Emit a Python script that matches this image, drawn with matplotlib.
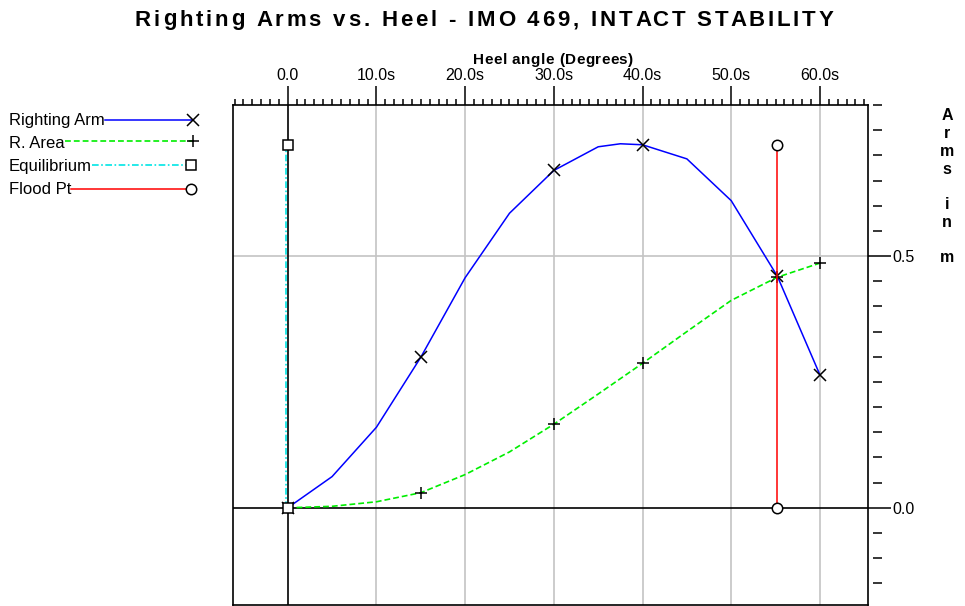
import matplotlib
matplotlib.use('Agg')
import matplotlib.pyplot as plt
import matplotlib.transforms as mtransforms
from matplotlib.lines import Line2D
from matplotlib.ticker import MultipleLocator

plt.rcParams['font.family'] = ['Liberation Sans', 'DejaVu Sans']

# ---------------- data ----------------
heel = [0, 5, 10, 15, 20, 25, 30, 35, 37.5, 40, 45, 50, 55.2, 60]
righting_arm = [0.0, 0.062, 0.160, 0.299, 0.457, 0.585, 0.670, 0.717, 0.723,
                0.721, 0.693, 0.610, 0.460, 0.264]
area_heel = [0, 5, 10, 15, 20, 25, 30, 35, 40, 45, 50, 55.2, 60]
r_area = [0.0, 0.003, 0.012, 0.030, 0.066, 0.111, 0.166, 0.226, 0.287,
          0.350, 0.412, 0.458, 0.486]
marked_heels = [0, 15, 30, 40, 55.2, 60]
equilibrium_heel = 0.0
flood_heel = 55.2
vline_range = [0.0, 0.721]

x_ticks = [0, 10, 20, 30, 40, 50, 60]
x_tick_labels = ['0.0', '10.0s', '20.0s', '30.0s', '40.0s', '50.0s', '60.0s']
y_ticks = [0.0, 0.5]
y_tick_labels = ['0.0', '0.5']
y_minor_ticks = [-0.15, -0.10, -0.05, 0.05, 0.10, 0.15, 0.20, 0.25, 0.30,
                 0.35, 0.40, 0.45, 0.55, 0.60, 0.65, 0.70, 0.75, 0.80]

title = 'Righting Arms vs. Heel - IMO 469, INTACT STABILITY'
x_label = 'Heel angle (Degrees)'
y_label_letters = ['A', 'r', 'm', 's', '', 'i', 'n', '', 'm']
legend_labels = ['Righting Arm', 'R. Area', 'Equilibrium', 'Flood Pt']

# ---------------- figure ----------------
W, H = 965, 606
fig = plt.figure(figsize=(W / 100, H / 100), dpi=100)
renderer = fig.canvas.get_renderer()

def fx(px):
    return px / W

def fy(py):
    return 1 - py / H

def tracked_text(cx, cy, s, target_w, **kw):
    """Draw text with extra letter spacing so it spans about target_w px."""
    def width(txt):
        t = fig.text(0, 0, txt, **kw)
        w = t.get_window_extent(renderer).width
        t.remove()
        return w
    wl = width('l')
    starts = [0.0] + [width(s[:i] + 'l') - wl for i in range(1, len(s))]
    natural = width(s)
    track = max(0.0, (target_w - natural) / (len(s) - 1))
    total = natural + track * (len(s) - 1)
    x0 = cx - total / 2
    for i, c in enumerate(s):
        if c != ' ':
            fig.text(fx(x0 + starts[i] + i * track), fy(cy), c,
                     ha='left', va='center', **kw)

ax_l, ax_r, ax_t, ax_b = 233, 868, 105, 605
ax = fig.add_axes([fx(ax_l), fy(ax_b), (ax_r - ax_l) / W, (ax_b - ax_t) / H])
ax.set_xlim(-6.17, 65.42)
ax.set_ylim(-0.193, 0.80)

for s in ax.spines.values():
    s.set_color('black')
    s.set_linewidth(1.2)

# grid lines
for xv in x_ticks[1:]:
    ax.axvline(xv, color='#c4c4c4', lw=1.2, zorder=1)
ax.axhline(0.5, color='#c4c4c4', lw=1.2, zorder=1)
ax.axhline(0.0, color='black', lw=1.2, zorder=2)
ax.axvline(0.0, color='black', lw=1.2, zorder=2)

# series
ra_marks = [heel.index(a) for a in marked_heels]
ar_marks = [area_heel.index(a) for a in marked_heels]
ax.plot(heel, righting_arm, color='#0000ff', lw=1.1, zorder=4,
        marker='x', markevery=ra_marks, ms=9, mec='black', mew=1.1)
ax.plot(area_heel, r_area, color='#00ee00', lw=1.2, ls=(0, (3.5, 1.8)), zorder=4,
        marker='+', markevery=ar_marks, ms=9, mec='black', mew=1.1)

cyan_tr = mtransforms.offset_copy(ax.transData, fig=fig, x=-1.3, y=0, units='dots')
ax.plot([equilibrium_heel] * 2, vline_range, color='#00e5e5', lw=1.2,
        ls=(0, (4, 1.5, 1, 1.5)), transform=cyan_tr, zorder=5)
ax.plot([equilibrium_heel] * 2, vline_range, ls='none', marker='s', ms=7,
        mfc='white', mec='black', mew=1.1, zorder=6)
ax.plot([flood_heel] * 2, vline_range, color='#ff0000', lw=1.1, zorder=5)
ax.plot([flood_heel] * 2, vline_range, ls='none', marker='o', ms=7.5,
        mfc='white', mec='black', mew=1.1, zorder=6)

# top x axis
ax.xaxis.tick_top()
ax.set_xticks(x_ticks, labels=x_tick_labels)
ax.xaxis.set_minor_locator(MultipleLocator(1))
ax.tick_params(axis='x', which='major', length=13.5, width=1.1, direction='out',
               pad=2, labelsize=11.5)
ax.tick_params(axis='x', which='minor', length=4, width=1.1, direction='out')

# right y axis
ax.yaxis.tick_right()
ax.set_yticks(y_ticks, labels=y_tick_labels)
ax.tick_params(axis='y', which='major', length=16.5, width=1.1, direction='out',
               pad=1, labelsize=11.5)
sec = ax.secondary_yaxis(1 + 5 / (ax_r - ax_l))
sec.set_yticks(y_minor_ticks, labels=[''] * len(y_minor_ticks))
sec.tick_params(axis='y', length=6.5, width=1.1, direction='out')
for s in sec.spines.values():
    s.set_visible(False)

# title and x label
tracked_text(484, 20, title, 698, fontsize=16, fontweight='bold')
tracked_text(553, 60, x_label, 160, fontsize=11, fontweight='bold')

# vertical stacked y label
for i, ch in enumerate(y_label_letters):
    if ch:
        fig.text(fx(947), fy(116 + i * 17.75), ch, ha='center', va='center',
                 fontsize=11.5, fontweight='bold')

# legend (manual)
leg_y = [120, 143, 166, 189]
leg_line_dy = [0, -2, -1, 0]
leg_marker_x = [193, 193, 191, 191]
leg_styles = [
    dict(color='#0000ff', lw=1.1, ls='-'),
    dict(color='#00ee00', lw=1.2, ls=(0, (3.5, 1.8))),
    dict(color='#00e5e5', lw=1.2, ls=(0, (4, 1.5, 1, 1.5))),
    dict(color='#ff0000', lw=1.1, ls='-'),
]
leg_markers = [
    dict(marker='x', ms=9, mec='black', mew=1.1),
    dict(marker='+', ms=9, mec='black', mew=1.1),
    dict(marker='s', ms=7, mfc='white', mec='black', mew=1.1),
    dict(marker='o', ms=7.5, mfc='white', mec='black', mew=1.1),
]
texts = []
for lab, yy in zip(legend_labels, leg_y):
    texts.append(fig.text(fx(9), fy(yy), lab, ha='left', va='center', fontsize=12))
for t, yy, dy, mx, st, mk in zip(texts, leg_y, leg_line_dy, leg_marker_x,
                                  leg_styles, leg_markers):
    bb = t.get_window_extent(renderer)
    x0 = bb.x1 / W
    fig.add_artist(Line2D([x0, fx(mx)], [fy(yy + dy)] * 2, transform=fig.transFigure, **st))
    fig.add_artist(Line2D([fx(mx)], [fy(yy + dy)], transform=fig.transFigure, ls='none', **mk))

fig.savefig('out.png', dpi=100)
